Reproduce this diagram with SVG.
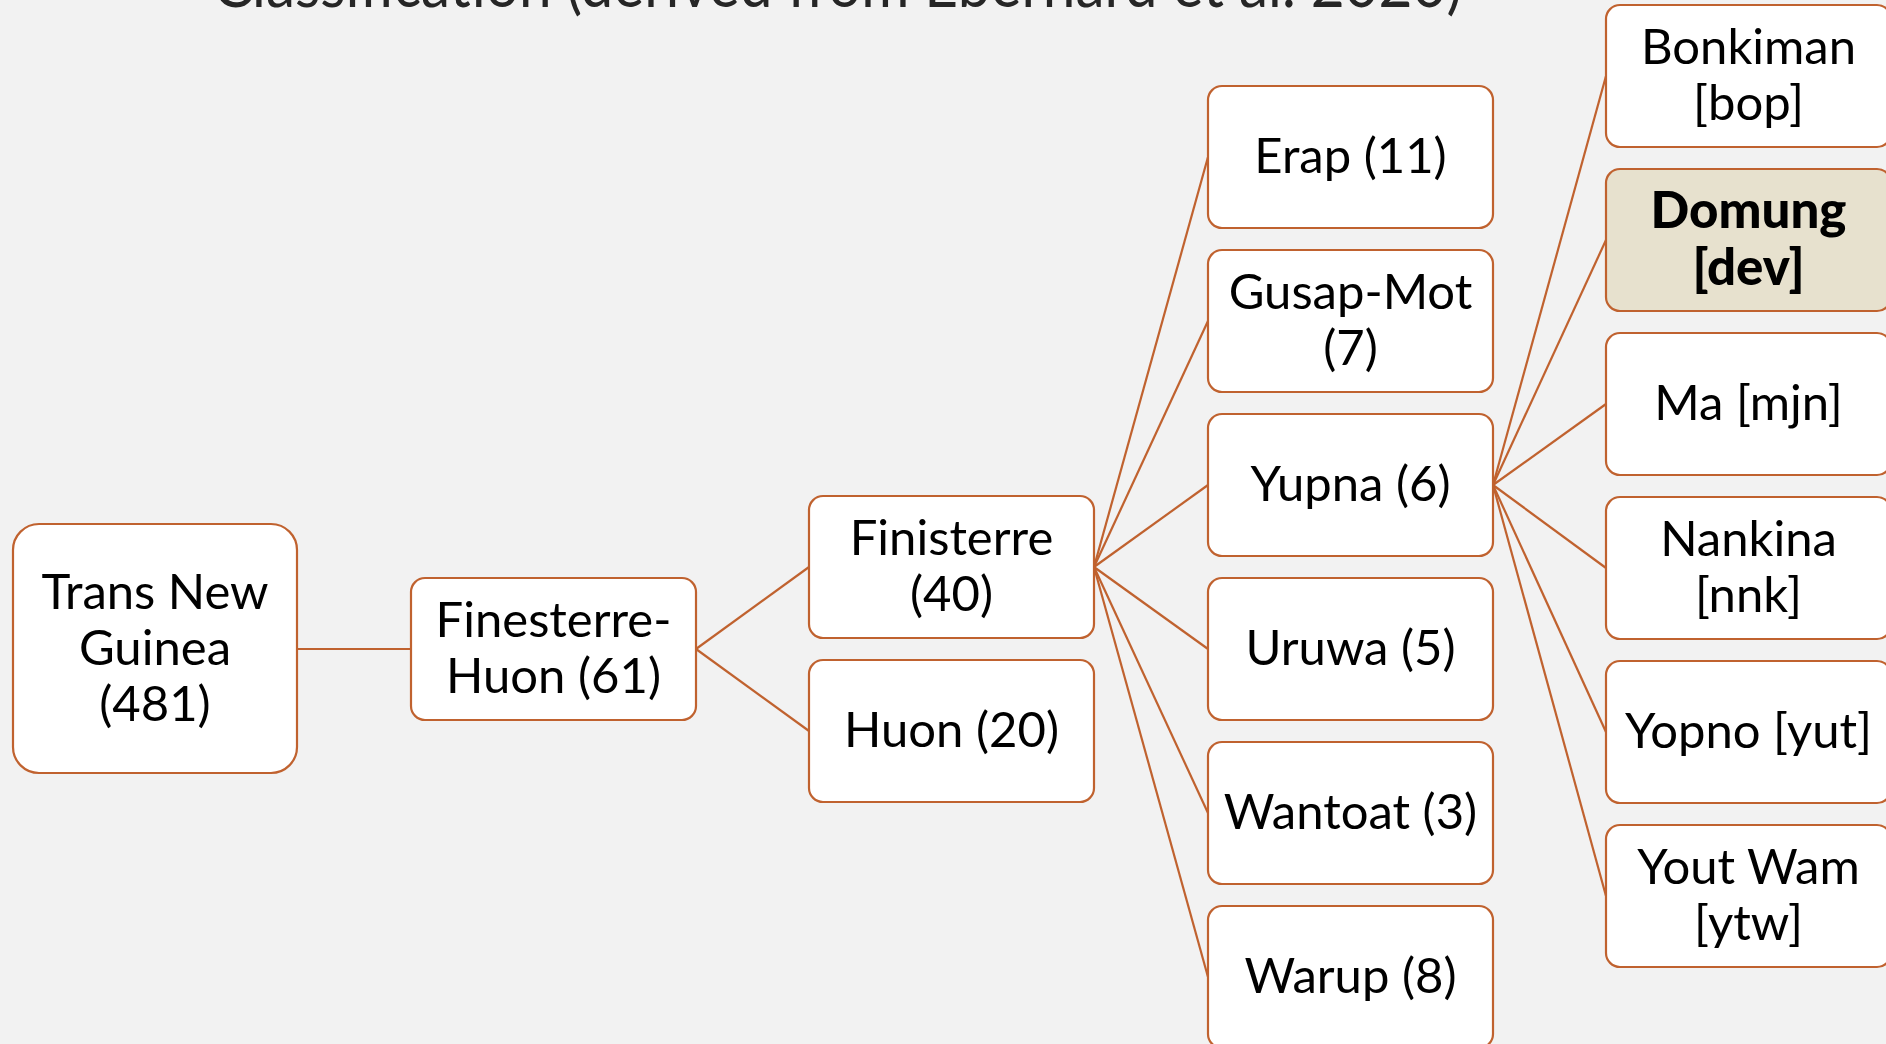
<svg xmlns="http://www.w3.org/2000/svg" width="1886" height="1044" viewBox="0 0 1886 1044">
  <style>
    .box { fill: #FFFFFF; stroke: #C0622F; stroke-width: 2.2; }
    .hl { fill: #E7E1CE; }
    .lbl { font-family: Lato, "Liberation Sans", sans-serif; font-size: 49px; fill: #000000; text-anchor: middle; }
    .bold { font-weight: 900; font-size: 51px; }
    .link { stroke: #C0622F; stroke-width: 2.2; fill: none; }
    .title { font-family: Lato, "Liberation Sans", sans-serif; font-size: 64px; fill: #262626; }
  </style>
  <rect x="0" y="0" width="1886" height="1044" fill="#F2F2F2"/>

  <!-- heading, mostly above the top edge -->
  <text class="title" x="213" y="7" textLength="1249" lengthAdjust="spacingAndGlyphs">Classification (derived from Eberhard et al. 2020)</text>

  <!-- tree links -->
  <g id="connectors">
    <line class="link" x1="297" y1="649" x2="411" y2="649"/>
    <line class="link" x1="696" y1="649" x2="809" y2="567"/>
    <line class="link" x1="696" y1="649" x2="809" y2="731"/>
    <line class="link" x1="1094" y1="567" x2="1208" y2="157"/>
    <line class="link" x1="1094" y1="567" x2="1208" y2="321"/>
    <line class="link" x1="1094" y1="567" x2="1208" y2="485"/>
    <line class="link" x1="1094" y1="567" x2="1208" y2="649"/>
    <line class="link" x1="1094" y1="567" x2="1208" y2="813"/>
    <line class="link" x1="1094" y1="567" x2="1208" y2="977"/>
    <line class="link" x1="1493" y1="485" x2="1606" y2="76"/>
    <line class="link" x1="1493" y1="485" x2="1606" y2="240"/>
    <line class="link" x1="1493" y1="485" x2="1606" y2="404"/>
    <line class="link" x1="1493" y1="485" x2="1606" y2="568"/>
    <line class="link" x1="1493" y1="485" x2="1606" y2="732"/>
    <line class="link" x1="1493" y1="485" x2="1606" y2="896"/>
  </g>

  <!-- level 1 -->
  <g id="trans-new-guinea">
    <rect class="box" x="13" y="524" width="284" height="249" rx="26"/>
    <text class="lbl" x="155" y="609">Trans New</text>
    <text class="lbl" x="155" y="665">Guinea</text>
    <text class="lbl" x="155" y="721">(481)</text>
  </g>

  <!-- level 2 -->
  <g id="finesterre-huon">
    <rect class="box" x="411" y="578" width="285" height="142" rx="14"/>
    <text class="lbl" x="553.5" y="637">Finesterre-</text>
    <text class="lbl" x="553.5" y="693">Huon (61)</text>
  </g>

  <!-- level 3 -->
  <g id="finisterre">
    <rect class="box" x="809" y="496" width="285" height="142" rx="14"/>
    <text class="lbl" x="951.5" y="555">Finisterre</text>
    <text class="lbl" x="951.5" y="611">(40)</text>
  </g>
  <g id="huon">
    <rect class="box" x="809" y="660" width="285" height="142" rx="14"/>
    <text class="lbl" x="951.5" y="747">Huon (20)</text>
  </g>

  <!-- level 4 -->
  <g id="erap">
    <rect class="box" x="1208" y="86" width="285" height="142" rx="14"/>
    <text class="lbl" x="1350.5" y="173">Erap (11)</text>
  </g>
  <g id="gusap-mot">
    <rect class="box" x="1208" y="250" width="285" height="142" rx="14"/>
    <text class="lbl" x="1350.5" y="309">Gusap-Mot</text>
    <text class="lbl" x="1350.5" y="365">(7)</text>
  </g>
  <g id="yupna">
    <rect class="box" x="1208" y="414" width="285" height="142" rx="14"/>
    <text class="lbl" x="1350.5" y="501">Yupna (6)</text>
  </g>
  <g id="uruwa">
    <rect class="box" x="1208" y="578" width="285" height="142" rx="14"/>
    <text class="lbl" x="1350.5" y="665">Uruwa (5)</text>
  </g>
  <g id="wantoat">
    <rect class="box" x="1208" y="742" width="285" height="142" rx="14"/>
    <text class="lbl" x="1350.5" y="829">Wantoat (3)</text>
  </g>
  <g id="warup">
    <rect class="box" x="1208" y="906" width="285" height="142" rx="14"/>
    <text class="lbl" x="1350.5" y="993">Warup (8)</text>
  </g>

  <!-- level 5: Yupna languages -->
  <g id="bonkiman">
    <rect class="box" x="1606" y="5" width="285" height="142" rx="14"/>
    <text class="lbl" x="1748.5" y="64">Bonkiman</text>
    <text class="lbl" x="1748.5" y="120">[bop]</text>
  </g>
  <g id="domung">
    <rect class="box hl" x="1606" y="169" width="285" height="142" rx="14"/>
    <text class="lbl bold" x="1748.5" y="228">Domung</text>
    <text class="lbl bold" x="1748.5" y="285">[dev]</text>
  </g>
  <g id="ma">
    <rect class="box" x="1606" y="333" width="285" height="142" rx="14"/>
    <text class="lbl" x="1748.5" y="420">Ma [mjn]</text>
  </g>
  <g id="nankina">
    <rect class="box" x="1606" y="497" width="285" height="142" rx="14"/>
    <text class="lbl" x="1748.5" y="556">Nankina</text>
    <text class="lbl" x="1748.5" y="612">[nnk]</text>
  </g>
  <g id="yopno">
    <rect class="box" x="1606" y="661" width="285" height="142" rx="14"/>
    <text class="lbl" x="1748.5" y="748">Yopno [yut]</text>
  </g>
  <g id="yout-wam">
    <rect class="box" x="1606" y="825" width="285" height="142" rx="14"/>
    <text class="lbl" x="1748.5" y="884">Yout Wam</text>
    <text class="lbl" x="1748.5" y="940">[ytw]</text>
  </g>
</svg>
